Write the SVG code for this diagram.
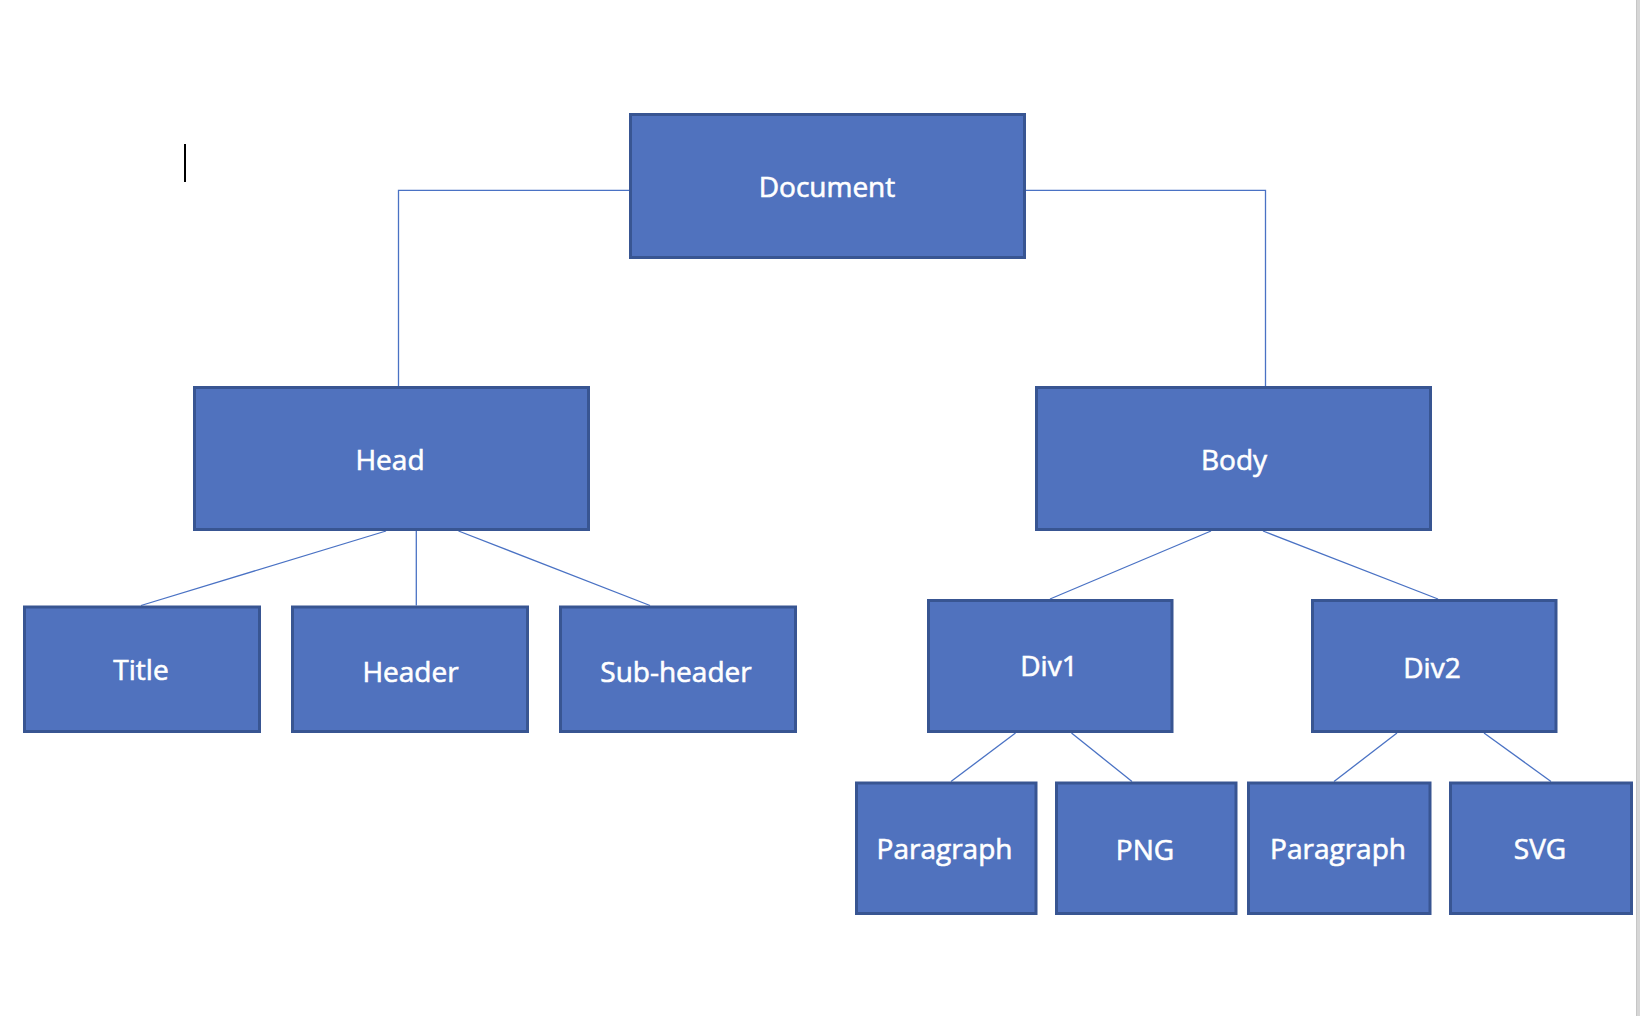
<svg xmlns="http://www.w3.org/2000/svg" width="1640" height="1016" viewBox="0 0 1640 1016">
  <style>
    .box { fill: #5072BE; stroke: #385592; stroke-width: 3; }
    .lbl { fill: #FFFFFF; stroke: #FFFFFF; stroke-width: 0.6; font-family: "Open Sans", "Noto Sans", "Liberation Sans", sans-serif; font-size: 28px; text-anchor: middle; }
    .conn { fill: none; stroke: #4A72C4; stroke-width: 1.3; }
  </style>
  <rect x="0" y="0" width="1640" height="1016" fill="#FFFFFF"/>
  <rect x="1636" y="0" width="4" height="1016" fill="#D6D6D6"/>
  <line x1="1636.5" y1="0" x2="1636.5" y2="1016" stroke="#C6C6C6" stroke-width="1"/>
  <line x1="185" y1="144" x2="185" y2="182" stroke="#000000" stroke-width="2"/>

  <g id="connectors">
    <polyline class="conn" points="630,190.3 398.5,190.3 398.5,386"/>
    <polyline class="conn" points="1026,190.3 1265.5,190.3 1265.5,386"/>
    <line class="conn" x1="386" y1="531" x2="141" y2="605.5"/>
    <line class="conn" x1="416.3" y1="531" x2="416.3" y2="605.5"/>
    <line class="conn" x1="458.5" y1="531" x2="650" y2="605.5"/>
    <line class="conn" x1="1211" y1="531" x2="1050" y2="599"/>
    <line class="conn" x1="1263" y1="531" x2="1438" y2="599"/>
    <line class="conn" x1="1015.5" y1="733" x2="951" y2="781.5"/>
    <line class="conn" x1="1071.5" y1="733" x2="1132" y2="781.5"/>
    <line class="conn" x1="1397" y1="733" x2="1334" y2="781.5"/>
    <line class="conn" x1="1484" y1="733" x2="1551" y2="781.5"/>
  </g>

  <g id="node-document">
    <rect class="box" x="630.5" y="114.5" width="394" height="143"/>
    <text class="lbl" x="827" y="197">Document</text>
  </g>
  <g id="node-head">
    <rect class="box" x="194.5" y="387.5" width="394" height="142"/>
    <text class="lbl" x="390" y="470">Head</text>
  </g>
  <g id="node-body">
    <rect class="box" x="1036.5" y="387.5" width="394" height="142"/>
    <text class="lbl" x="1234" y="470">Body</text>
  </g>
  <g id="node-title">
    <rect class="box" x="24.5" y="607" width="235" height="124.5"/>
    <text class="lbl" x="141" y="680">Title</text>
  </g>
  <g id="node-header">
    <rect class="box" x="292.5" y="607" width="235" height="124.5"/>
    <text class="lbl" x="410.5" y="682">Header</text>
  </g>
  <g id="node-subheader">
    <rect class="box" x="560.5" y="607" width="235" height="124.5"/>
    <text class="lbl" x="676" y="682">Sub-header</text>
  </g>
  <g id="node-div1">
    <rect class="box" x="928.5" y="600.5" width="243.5" height="131"/>
    <text class="lbl" x="1049" y="676">Div1</text>
  </g>
  <g id="node-div2">
    <rect class="box" x="1312.5" y="600.5" width="243.5" height="131"/>
    <text class="lbl" x="1432" y="678">Div2</text>
  </g>
  <g id="node-paragraph1">
    <rect class="box" x="856.5" y="783" width="179.5" height="130.5"/>
    <text class="lbl" x="944.5" y="858.5">Paragraph</text>
  </g>
  <g id="node-png">
    <rect class="box" x="1056.5" y="783" width="179.5" height="130.5"/>
    <text class="lbl" x="1145" y="860">PNG</text>
  </g>
  <g id="node-paragraph2">
    <rect class="box" x="1248.5" y="783" width="181.5" height="130.5"/>
    <text class="lbl" x="1338" y="858.5">Paragraph</text>
  </g>
  <g id="node-svg">
    <rect class="box" x="1450.5" y="783" width="181" height="130.5"/>
    <text class="lbl" x="1540" y="859">SVG</text>
  </g>
</svg>
